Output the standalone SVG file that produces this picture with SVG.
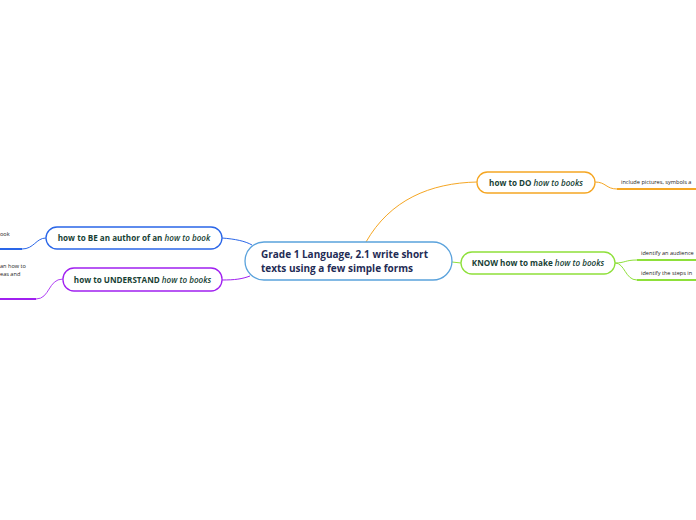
<svg xmlns="http://www.w3.org/2000/svg" width="696" height="520" viewBox="0 0 696 520">
<style>
.node{fill:#fff;stroke-width:1.3}
.t{font-family:"Open Sans","Noto Sans",sans-serif;font-weight:bold;font-size:8.1px;fill:#173f35;text-anchor:middle}
.i{font-style:italic;font-weight:600}
.ct{font-family:"Open Sans","Noto Sans",sans-serif;font-weight:bold;font-size:10px;fill:#1f2c55}
.leaf{font-family:"Open Sans","Noto Sans",sans-serif;font-size:5.6px;fill:#222}
.c{fill:none;stroke-width:1}
.u{fill:none;stroke-width:2}
</style>
<rect width="696" height="520" fill="#fff"/>
<g id="connectors">
<path class="c" d="M366,242 C390,200 430,183 477,182" stroke="#f5a623"/>
<path class="c" d="M452,262 L461,263" stroke="#8ee03a"/>
<path class="c" d="M222,238 C235,239 245,241 252,245" stroke="#2a66e8"/>
<path class="c" d="M222,280 C235,280 242,279 250,276" stroke="#a020f0"/>
<path class="c" d="M46,238 C36,238 34,249 22,249" stroke="#2a66e8"/>
<path class="u" d="M0,249 L22,249" stroke="#2a66e8"/>
<path class="c" d="M63,279 C48,279 50,299 36,299" stroke="#b040f5"/>
<path class="u" d="M0,299 L36,299" stroke="#a020f0"/>
<path class="c" d="M595,182 C606,182 606,189 617,189" stroke="#f5a623"/>
<path class="u" d="M617,189 L696,189" stroke="#f5a623"/>
<path class="c" d="M615,263 C625,263 625,260 637,260" stroke="#8ee03a"/>
<path class="c" d="M615,263 C625,263 625,280 637,280" stroke="#8ee03a"/>
<path class="u" d="M637,260 L696,260" stroke="#8ee03a"/>
<path class="u" d="M637,280 L696,280" stroke="#8ee03a"/>
</g>
<g id="central">
<rect class="node" x="245" y="242" width="207" height="38" rx="19" stroke="#5aa2dc" stroke-width="1.5"/>
<text class="ct" x="261" y="258">Grade 1 Language, 2.1 write short</text>
<text class="ct" x="261" y="272">texts using a few simple forms</text>
</g>
<g id="node-be">
<rect class="node" x="46" y="227" width="176" height="22" rx="11" stroke="#2a66e8"/>
<text class="t" x="134" y="241">how to BE an author of an <tspan class="i">how to book</tspan></text>
</g>
<g id="node-understand">
<rect class="node" x="63" y="268" width="159" height="23" rx="11" stroke="#a020f0"/>
<text class="t" x="142.5" y="283">how to UNDERSTAND <tspan class="i">how to books</tspan></text>
</g>
<g id="node-do">
<rect class="node" x="477" y="172" width="118" height="21" rx="10.5" stroke="#f5a623"/>
<text class="t" x="536" y="186">how to DO <tspan class="i">how to books</tspan></text>
</g>
<g id="node-know">
<rect class="node" x="461" y="252" width="154" height="22" rx="11" stroke="#8ee03a"/>
<text class="t" x="538" y="266">KNOW how to make <tspan class="i">how to books</tspan></text>
</g>
<g id="leaf-be"><text class="leaf" x="0" y="236">ook</text></g>
<g id="leaf-understand">
<text class="leaf" x="0" y="268">an how to</text>
<text class="leaf" x="0" y="276">eas and</text>
</g>
<g id="leaf-do"><text class="leaf" x="621" y="184">include pictures, symbols a</text></g>
<g id="leaf-know1"><text class="leaf" x="641" y="255">identify an audience</text></g>
<g id="leaf-know2"><text class="leaf" x="641" y="275">identify the steps in</text></g>
</svg>
